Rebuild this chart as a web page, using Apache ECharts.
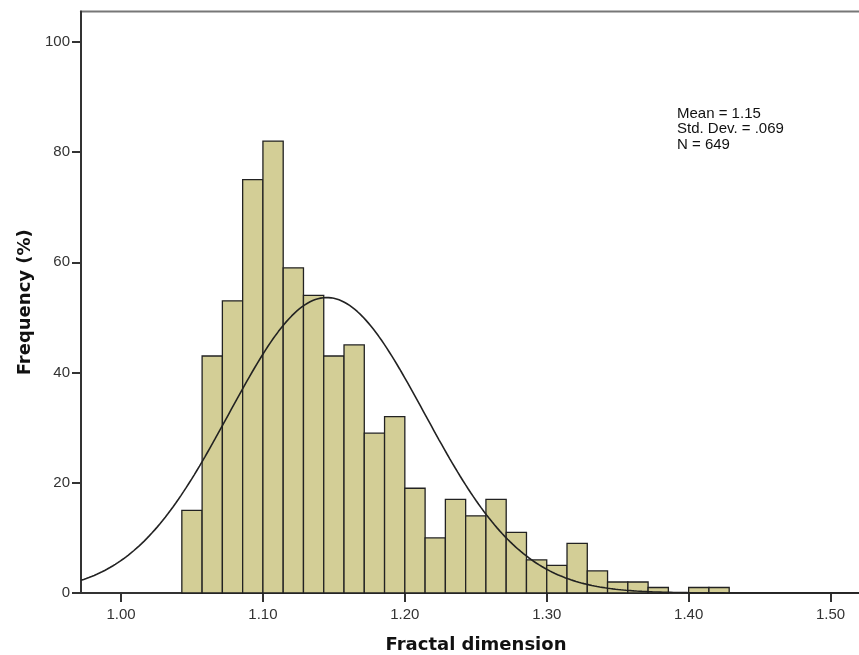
<!DOCTYPE html>
<html><head><meta charset="utf-8">
<script src="https://cdn.jsdelivr.net/npm/echarts@6/dist/echarts.min.js"></script>
<style>html,body{margin:0;padding:0;background:#fff}#c{width:859px;height:655px}</style>
</head><body><div id="c"></div>
<script>
// Histogram bins (bin width = 1/70 ≈ 0.0142857), left edges and counts
const binStart = [1.042857,1.057143,1.071429,1.085714,1.100000,1.114286,1.128571,1.142857,1.157143,1.171429,1.185714,1.200000,1.214286,1.228571,1.242857,1.257143,1.271429,1.285714,1.300000,1.314286,1.328571,1.342857,1.357143,1.371429,1.385714,1.400000,1.414286];
const binWidth = 1/70;
const counts = [15,43,53,75,82,59,54,43,45,29,32,19,10,17,14,17,11,6,5,9,4,2,2,1,0,1,1];
// Summary statistics shown on the chart (normal curve fitted from them)
const statMean = 1.145, statSd = 0.069, statN = 649;
const statLines = ['Mean = 1.15','Std. Dev. = .069','N = 649'];
const xTicks = [1.00,1.10,1.20,1.30,1.40,1.50];
const yTicks = [0,20,40,60,80,100];
const xMin = 0.9718, xMax = 1.5285, yMax = 105.5;

const barData = binStart.map((s,i)=>[s, s+binWidth, counts[i]]).filter(d=>d[2]>0);
const curve = [];
for (let k=0;k<=300;k++){
  const x = xMin + (xMax-xMin)*k/300;
  const z = (x-statMean)/statSd;
  curve.push([x, statN*binWidth/(statSd*Math.sqrt(2*Math.PI))*Math.exp(-0.5*z*z)]);
}

const chart = echarts.init(document.getElementById('c'));
chart.setOption({
  animation:false,
  backgroundColor:'#fff',
  grid:{left:81, top:11.5, bottom:62, right:-12, containLabel:false, outerBoundsMode:'none',
    show:true, borderColor:'#777', borderWidth:2, backgroundColor:'transparent'},
  xAxis:{type:'value', min:xMin, max:xMax,
    name:'Fractal dimension', nameLocation:'middle', nameGap:43,
    nameTextStyle:{fontFamily:'DejaVu Sans', fontWeight:'bold', fontSize:18, color:'#111'},
    axisLine:{show:true, onZero:false, lineStyle:{color:'#333', width:2}},
    axisTick:{show:true, length:9, customValues:xTicks, lineStyle:{color:'#333', width:2}},
    axisLabel:{customValues:xTicks, margin:14, fontFamily:'Liberation Sans', fontSize:15, color:'#333', formatter:v=>v.toFixed(2)},
    splitLine:{show:false}},
  yAxis:{type:'value', min:0, max:yMax,
    name:'Frequency (%)', nameLocation:'middle', nameGap:47, nameRotate:90,
    nameTextStyle:{fontFamily:'DejaVu Sans', fontWeight:'bold', fontSize:18, color:'#111'},
    axisLine:{show:true, lineStyle:{color:'#333', width:2}},
    axisTick:{show:true, length:9, customValues:yTicks, lineStyle:{color:'#333', width:2}},
    axisLabel:{customValues:yTicks, margin:11, fontFamily:'Liberation Sans', fontSize:15, color:'#333'},
    splitLine:{show:false}},
  series:[
    {type:'custom', data:barData, encode:{x:[0,1], y:2},
     renderItem:(params, api)=>{
       const p0 = api.coord([api.value(0), api.value(2)]);
       const p1 = api.coord([api.value(1), 0]);
       return {type:'rect', shape:{x:p0[0], y:p0[1], width:p1[0]-p0[0], height:p1[1]-p0[1]},
         style:{fill:'#d3ce96', stroke:'#222', lineWidth:1.3}};
     }, z:2},
    {type:'line', data:curve, showSymbol:false, smooth:false, z:3,
     lineStyle:{color:'#222', width:1.6}, clip:true}
  ],
  graphic:[{type:'text', left:677, top:106,
    style:{text:statLines.join('\n'), font:'15px "Liberation Sans"', lineHeight:15.5, fill:'#111'}}]
});
</script></body></html>
